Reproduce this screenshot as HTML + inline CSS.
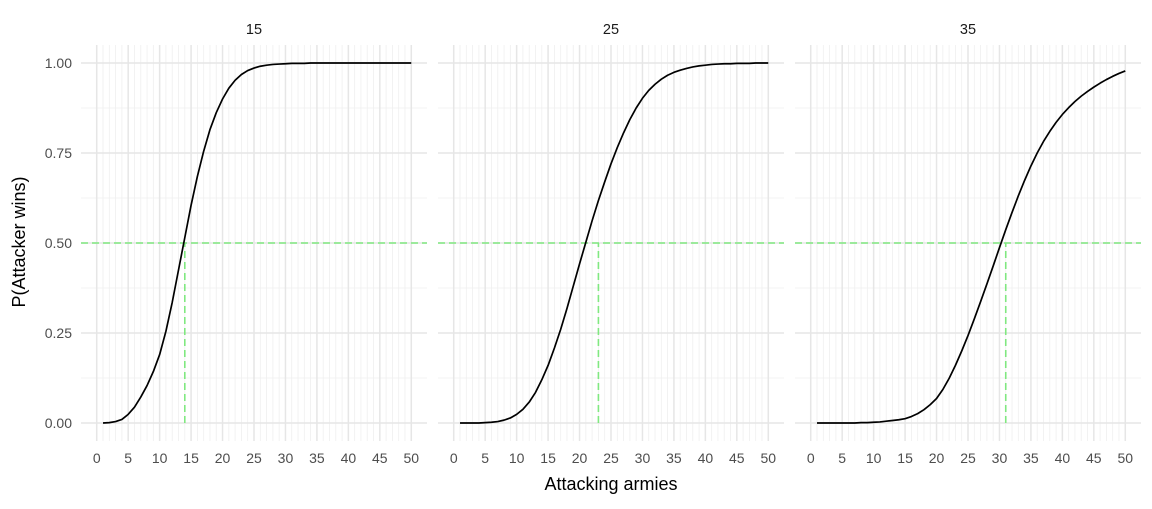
<!DOCTYPE html>
<html><head><meta charset="utf-8"><style>
body{margin:0;background:#fff}
svg text{font-family:"Liberation Sans",Arial,sans-serif}
</style></head><body>
<svg id="chart" width="1152" height="504" xmlns="http://www.w3.org/2000/svg">
<g id="root"></g>
<text x="611" y="490" font-size="18" text-anchor="middle" fill="#000">Attacking armies</text>
<text transform="translate(25,242) rotate(-90)" font-size="18" text-anchor="middle" fill="#000">P(Attacker wins)</text>
</svg>
<script>
const panelLabels = ["15","25","35"];
const cutoffs = [14, 23, 31];
const xTicks = [0,5,10,15,20,25,30,35,40,45,50];
const yTicks = [0,0.25,0.5,0.75,1];
const yTickLabels = ["0.00","0.25","0.50","0.75","1.00"];
const p15 = [0,0.001,0.004,0.01,0.024,0.044,0.072,0.104,0.143,0.19,0.255,0.335,0.425,0.515,0.605,0.685,0.755,0.815,0.862,0.9,0.93,0.952,0.968,0.979,0.986,0.991,0.994,0.996,0.997,0.998,0.999,0.999,0.999,1,1,1,1,1,1,1,1,1,1,1,1,1,1,1,1,1];
const p25 = [0,0,0,0,0.001,0.002,0.004,0.008,0.014,0.024,0.038,0.058,0.085,0.12,0.16,0.208,0.26,0.318,0.38,0.442,0.502,0.562,0.618,0.67,0.72,0.765,0.806,0.843,0.875,0.902,0.924,0.941,0.955,0.966,0.974,0.98,0.985,0.989,0.992,0.994,0.996,0.997,0.998,0.998,0.999,0.999,0.999,1,1,1];
const p35 = [0,0,0,0,0,0,0,0.001,0.001,0.002,0.003,0.005,0.007,0.009,0.012,0.018,0.026,0.037,0.051,0.068,0.093,0.124,0.16,0.2,0.243,0.289,0.337,0.386,0.436,0.487,0.537,0.585,0.631,0.674,0.714,0.75,0.782,0.81,0.835,0.857,0.876,0.893,0.908,0.921,0.933,0.944,0.954,0.963,0.971,0.978];
const series = [p15,p25,p35];
const panelLeft = [81, 438, 795];
const W = 346, plotTop = 45, plotBottom = 441;
const ns = "http://www.w3.org/2000/svg";
const root = document.getElementById('root');
function el(tag, attrs){const e=document.createElementNS(ns,tag);for(const k in attrs)e.setAttribute(k,attrs[k]);root.appendChild(e);return e;}
const yS = v => 423 - v*360;
for(let p=0;p<3;p++){
  const xS = v => panelLeft[p] + (v+2.5)*W/55;
  for(let i=1;i<=50;i++){ if(i%5===0) continue;
    const l=el('line',{x1:xS(i),x2:xS(i),y1:plotTop,y2:plotBottom,stroke:'#efefef','stroke-width':0.8});
    
    
  }
  for(let i=0;i<4;i++){ const v=0.125+i*0.25;
    const l=el('line',{x1:panelLeft[p],x2:panelLeft[p]+W,y1:yS(v),y2:yS(v),stroke:'#efefef','stroke-width':0.8});
    
    
  }
  xTicks.forEach(t=>{
    const l=el('line',{x1:xS(t),x2:xS(t),y1:plotTop,y2:plotBottom,stroke:'#e6e6e6','stroke-width':1.5});
    
    
    const tx=el('text',{x:xS(t),y:463,'font-size':14,'text-anchor':'middle',fill:'#4d4d4d'});
    tx.textContent=t;
    
    
  });
  yTicks.forEach((t,i)=>{
    const l=el('line',{x1:panelLeft[p],x2:panelLeft[p]+W,y1:yS(t),y2:yS(t),stroke:'#e6e6e6','stroke-width':1.5});
    
    
    if(p===0){
      const tx=el('text',{x:72,y:yS(t)+5,'font-size':14,'text-anchor':'end',fill:'#4d4d4d'});
      tx.textContent=yTickLabels[i];
      
      
    }
  });
  const st=el('text',{x:panelLeft[p]+W/2,y:34,'font-size':14.5,'text-anchor':'middle',fill:'#1a1a1a'});
  st.textContent=panelLabels[p];
  
  
  const h=el('line',{x1:panelLeft[p],x2:panelLeft[p]+W,y1:yS(0.5),y2:yS(0.5),stroke:'#80e880','stroke-width':1.6,'stroke-dasharray':'7,4'});
  
  
  const v=el('line',{x1:xS(cutoffs[p]),x2:xS(cutoffs[p]),y1:yS(0),y2:yS(0.5),stroke:'#80e880','stroke-width':1.6,'stroke-dasharray':'7,4'});
  
  
  const d=series[p].map((y,i)=>(i?'L':'M')+xS(i+1).toFixed(2)+','+yS(y).toFixed(2)).join('');
  const path=el('path',{d:d,fill:'none',stroke:'#000','stroke-width':1.7,'stroke-linejoin':'round'});
  
  
}
</script>
</body></html>
